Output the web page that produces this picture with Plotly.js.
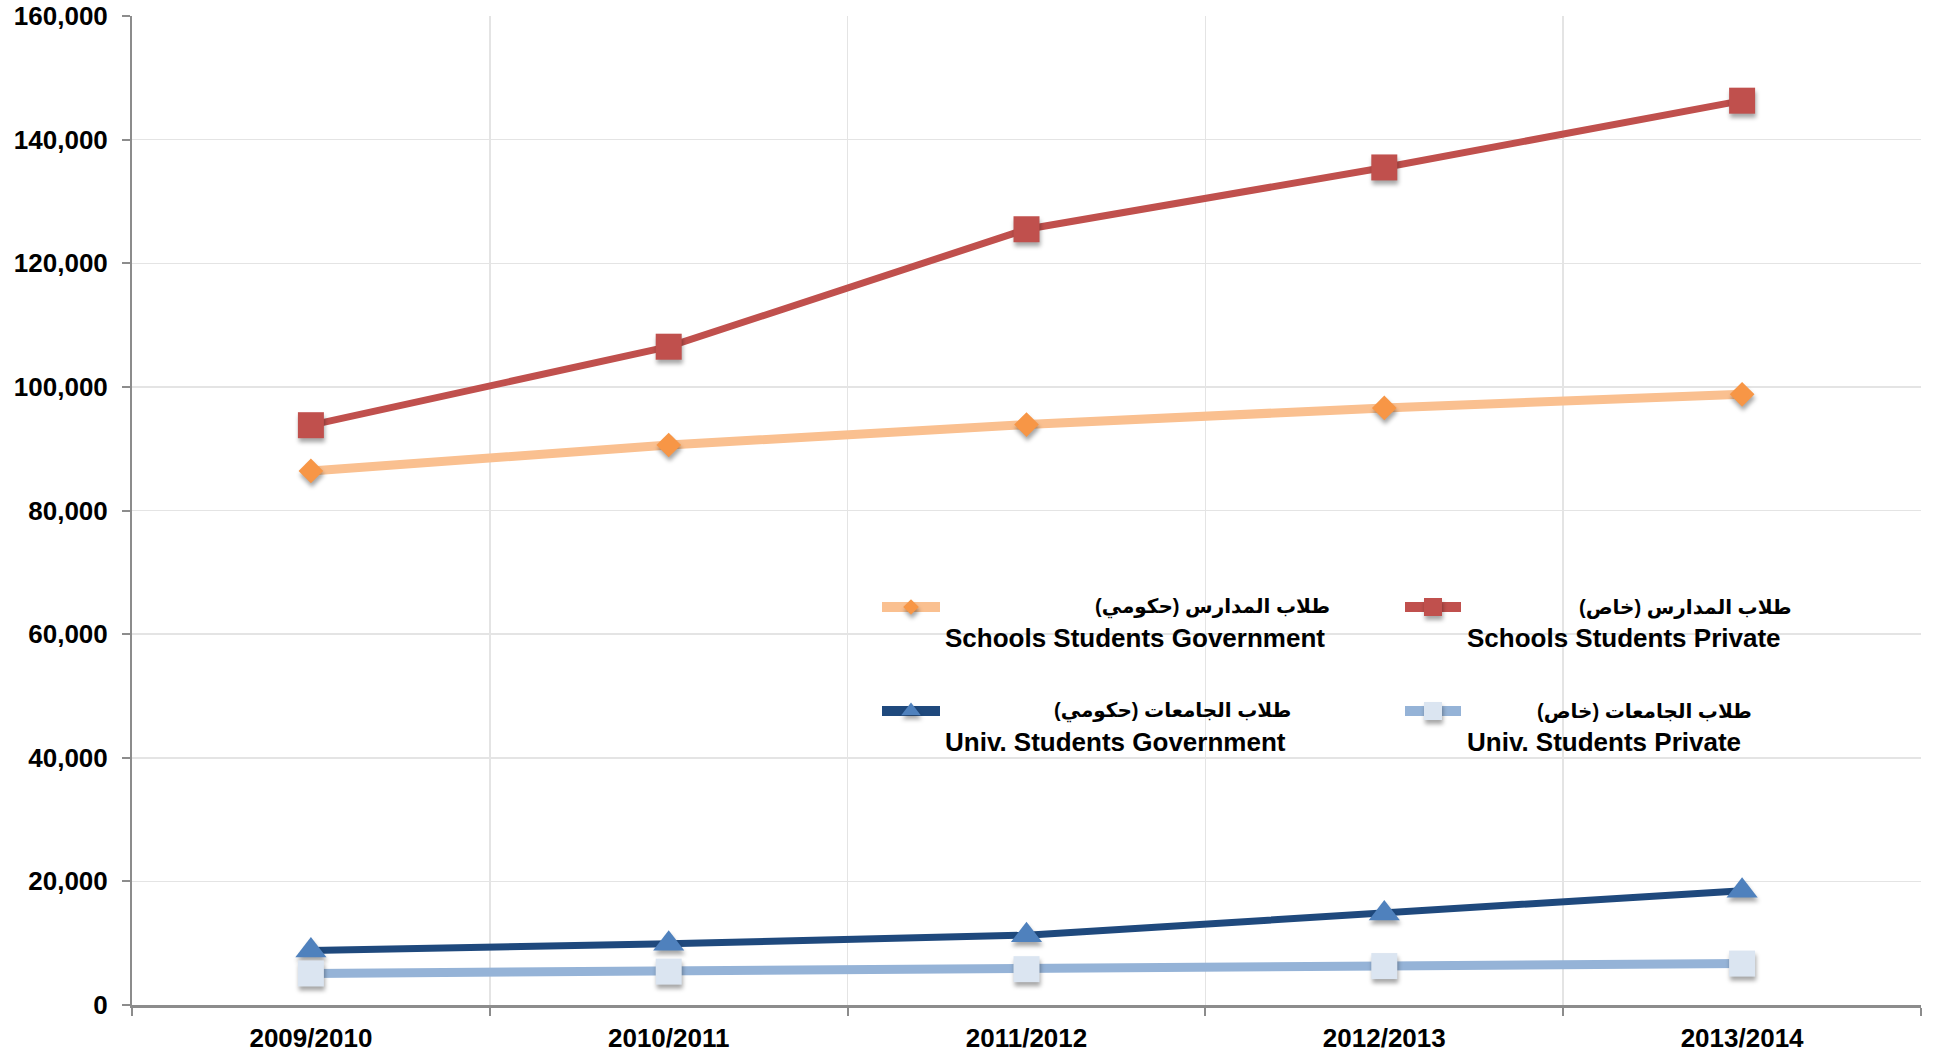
<!DOCTYPE html>
<html><head><meta charset="utf-8">
<script src="https://cdn.plot.ly/plotly-3.0.1.min.js"></script>
<style>
html,body{margin:0;padding:0;background:#fff;}
#chart{width:1933px;height:1055px;}
.subplot.xy .scatterlayer .point{filter:drop-shadow(1px 4px 2px rgba(0,0,0,0.35));}
.subplot.x2y2 .js-line{stroke-linecap:round !important;}
</style></head><body><div id="chart"></div>
<script>
// ---- data ----
const years = ['2009/2010','2010/2011','2011/2012','2012/2013','2013/2014'];
const schoolsGov     = [86400, 90600, 93900, 96600, 98800];
const schoolsPrivate = [93800, 106500, 125500, 135500, 146300];
const univGov        = [8800, 9900, 11300, 14800, 18500];
const univPrivate    = [5100, 5400, 5800, 6300, 6700];
const namesAr = ['طلاب المدارس (حكومي)','طلاب المدارس (خاص)','طلاب الجامعات (حكومي)','طلاب الجامعات (خاص)'];
const namesEn = ['Schools Students Government','Schools Students Private','Univ. Students Government','Univ. Students Private'];

// ---- styles ----
const FONT = "Arial, 'Liberation Sans', 'DejaVu Sans', sans-serif";
const styles = [
  {line:'#FAC090', lw:9, mc:'#F79646', sym:'diamond', ms:19, lms:12},
  {line:'#C0504D', lw:7, mc:'#C0504D', sym:'square', ms:26, lms:18},
  {line:'#1F497D', lw:7, mc:'#4F81BD', sym:'triangle-up', ms:27, lms:17},
  {line:'#95B3D7', lw:9, mc:'#DBE5F1', sym:'square', ms:26, lms:18}
];
const series = [schoolsGov, schoolsPrivate, univGov, univPrivate];

const traces = series.map((vals,i)=>({
  type:'scatter', mode:'lines+markers', x:years, y:vals,
  name: namesEn[i], showlegend:false, hoverinfo:'skip',
  line:{color:styles[i].line, width:styles[i].lw},
  marker:{symbol:styles[i].sym, size:styles[i].ms, color:styles[i].mc, line:{width:0}},
  xaxis:'x', yaxis:'y'
}));

// ---- custom legend (pixel-like overlay axes) ----
const legendItems = [
  {x0:882, x1:940, y:607, arRight:1332, enLeft:943},
  {x0:1405, x1:1461, y:607, arRight:1794, enLeft:1465},
  {x0:882, x1:940, y:711, arRight:1293, enLeft:943},
  {x0:1405, x1:1461, y:711, arRight:1754, enLeft:1465}
];
const annotations = [];
legendItems.forEach((it,i)=>{
  traces.push({type:'scatter', mode:'lines', x:[it.x0,it.x1], y:[it.y,it.y], xaxis:'x2', yaxis:'y2',
    showlegend:false, hoverinfo:'skip', line:{color:styles[i].line, width:10}});
  traces.push({type:'scatter', mode:'markers', x:[(it.x0+it.x1)/2], y:[it.y], xaxis:'x2', yaxis:'y2',
    showlegend:false, hoverinfo:'skip', marker:{symbol:styles[i].sym, size:styles[i].lms, color:styles[i].mc, line:{width:0}}});
  annotations.push({xref:'x2', yref:'y2', x:it.arRight, y:it.y, xanchor:'right', yanchor:'middle',
    text:'\u200F'+namesAr[i]+'\u200F', showarrow:false,
    font:{family:"Arial, 'Liberation Sans', 'DejaVu Sans', sans-serif", size:20, color:'#000', weight:'bold'}});
  annotations.push({xref:'x2', yref:'y2', x:it.enLeft, y:it.y+31, xanchor:'left', yanchor:'middle',
    text:namesEn[i], showarrow:false,
    font:{family:FONT, size:26, color:'#000', weight:'bold'}});
});

const layout = {
  width:1933, height:1055,
  margin:{l:132, r:12, t:16, b:50},
  paper_bgcolor:'#fff', plot_bgcolor:'#fff',
  showlegend:false,
  font:{family:FONT, color:'#000'},
  xaxis:{
    type:'category', range:[-0.5,4.5], tickson:'boundaries',
    showgrid:true, gridcolor:'#E4E4E4', gridwidth:1.5,
    showline:true, linecolor:'#8C8C8C', linewidth:3,
    ticks:'outside', ticklen:8, tickwidth:2, tickcolor:'#8C8C8C',
    ticklabelstandoff:8,
    tickfont:{family:FONT, size:26, color:'#000', weight:'bold'},
    zeroline:false, fixedrange:true
  },
  yaxis:{
    range:[0,160000], dtick:20000, tickformat:',d',
    showgrid:true, gridcolor:'#E4E4E4', gridwidth:1.5,
    showline:true, linecolor:'#8C8C8C', linewidth:2,
    ticks:'outside', ticklen:8, tickwidth:2, tickcolor:'#8C8C8C',
    ticklabelstandoff:9,
    tickfont:{family:FONT, size:26, color:'#000', weight:'bold'},
    zeroline:false, fixedrange:true
  },
  xaxis2:{overlaying:'x', anchor:'y2', range:[132,1921], visible:false, fixedrange:true},
  yaxis2:{overlaying:'y', anchor:'x2', range:[1005,16], visible:false, fixedrange:true},
  annotations: annotations
};

Plotly.newPlot('chart', traces, layout, {displayModeBar:false, staticPlot:true});
</script></body></html>
